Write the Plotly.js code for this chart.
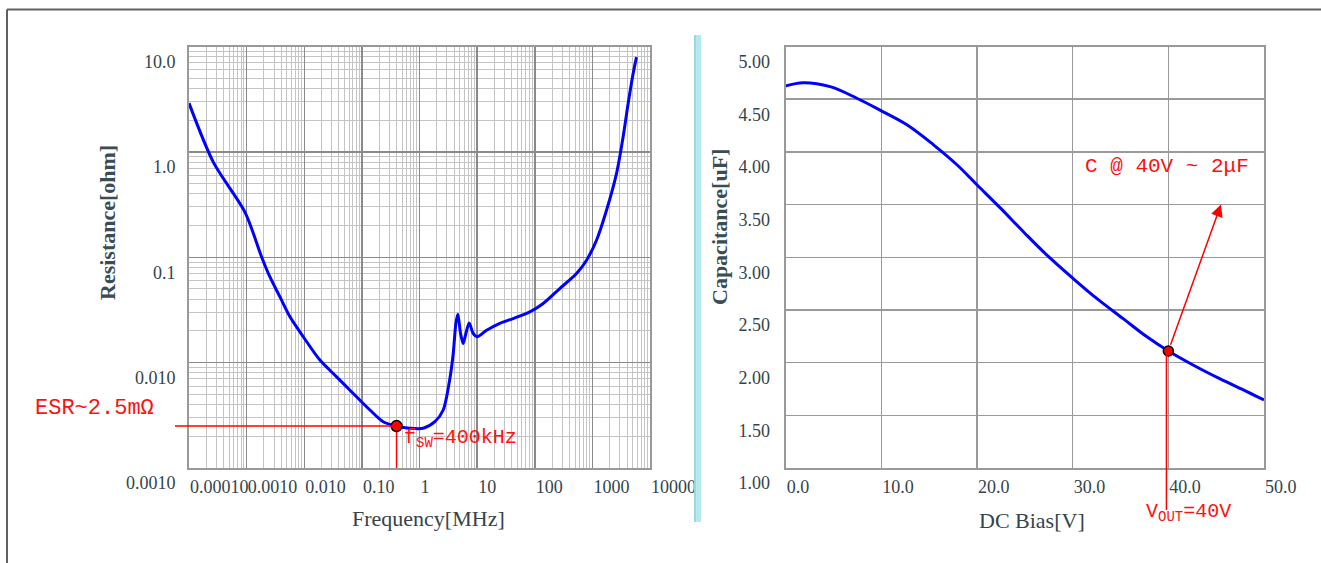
<!DOCTYPE html>
<html><head><meta charset="utf-8">
<script src="https://cdn.plot.ly/plotly-3.0.1.min.js"></script>
<style>html,body{margin:0;padding:0;background:#fff;}#chart{width:1321px;height:563px;}</style>
</head><body><div id="chart"></div>
<script>
// ---- Data: ESR vs frequency (left chart) ----
const freqMHz = [1e-4, 2.64e-4, 9.35e-4, 1.82e-3, 2.54e-3, 3.79e-3, 5.65e-3, 9.62e-3, 0.0187, 0.0365, 0.0708, 0.138, 0.234, 0.4, 0.68, 1.16, 1.85, 2.58, 3.37, 3.85, 4.28, 4.63, 5.16, 5.73, 6.38, 7.28, 8.54, 10.0, 14.6, 24.8, 42.2, 82.2, 140, 272, 531, 792, 1180, 1760, 2620, 3410, 4170, 5090, 5830];
const esrOhm = [2.90, 0.80, 0.268, 0.1007, 0.065, 0.042, 0.0272, 0.0176, 0.01057, 0.00733, 0.0051, 0.00355, 0.00275, 0.0025, 0.00238, 0.00238, 0.00275, 0.00355, 0.00708, 0.0122, 0.0236, 0.0288, 0.0189, 0.0152, 0.0189, 0.0238, 0.0189, 0.0176, 0.0203, 0.0236, 0.0262, 0.0303, 0.0364, 0.0505, 0.070, 0.0937, 0.145, 0.279, 0.621, 1.38, 2.86, 5.51, 7.93];
const freqTickVals = [1e-4, 1e-3, 1e-2, 1e-1, 1, 10, 100, 1000, 10000];
const freqTickText = ['0.00010', '0.0010', '0.010', '0.10', '1', '10', '100', '1000', '10000'];
const esrTickVals = [0.001, 0.01, 0.1, 1, 10];
const esrTickText = ['0.0010', '0.010', '0.1', '1.0', '10.0'];
const fsw = 0.4;          // MHz
const esrAtFsw = 0.0025;  // ohm

// ---- Data: capacitance vs DC bias (right chart) ----
const biasV = [0, 1.83, 4.65, 7.44, 9.95, 12.67, 15.45, 17.9, 19.99, 22.43, 24.87, 27.31, 30.03, 32.54, 35.31, 37.76, 40, 42.63, 45.42, 48.21, 50];
const capUF = [4.626, 4.657, 4.619, 4.509, 4.392, 4.257, 4.067, 3.878, 3.688, 3.468, 3.24, 3.02, 2.80, 2.607, 2.415, 2.245, 2.11, 1.975, 1.845, 1.725, 1.645];
const vout = 40;          // V
const capAtVout = 2.11;   // uF

// ---- Layout helpers ----
const W = 1321, H = 563;
const px = x => x / W, py = y => 1 - y / H;
const xr1 = [-4, 4], yr1 = [-3, 1], xr2 = [0, 50], yr2 = [1, 5];
const dom1x = [px(189), px(650)];
const minorX = [], minorY = [];
for (let d = xr1[0]; d < xr1[1]; d++) for (let k = 2; k <= 9; k++) minorX.push(k * Math.pow(10, d));
for (let d = yr1[0]; d < yr1[1]; d++) for (let k = 2; k <= 9; k++) minorY.push(k * Math.pow(10, d));
// paper x position of fsw on the left (log) axis
const fswPaperX = dom1x[0] + (Math.log10(fsw) - xr1[0]) / (xr1[1] - xr1[0]) * (dom1x[1] - dom1x[0]);

const tickFont = {family: 'Liberation Serif', size: 18, color: '#34444c'};
const xTitleFont = {family: 'Liberation Serif', size: 22, color: '#34444c'};
const yTitleFont = {family: 'Liberation Serif', size: 22, color: '#3a4c54', weight: 'bold'};
const redFont = {family: 'Liberation Mono', size: 20, color: '#ff1010'};

const traces = [
  {x: freqMHz, y: esrOhm, xaxis: 'x', yaxis: 'y', mode: 'lines', line: {color: '#0000ff', width: 3, shape: 'spline', smoothing: 0.8}, hoverinfo: 'none'},
  {x: [fsw, fsw], y: [Math.pow(10, yr1[0]), esrAtFsw], xaxis: 'x', yaxis: 'y', mode: 'lines', line: {color: '#ff0000', width: 1.5}, hoverinfo: 'none'},
  {x: [fsw], y: [esrAtFsw], xaxis: 'x', yaxis: 'y', mode: 'markers', cliponaxis: false, marker: {size: 11, color: '#ff0000', line: {color: '#000', width: 1.5}}, hoverinfo: 'none'},
  {x: biasV, y: capUF, xaxis: 'x2', yaxis: 'y2', mode: 'lines', line: {color: '#0000ff', width: 3, shape: 'spline', smoothing: 1}, hoverinfo: 'none'},
  {x: [vout], y: [capAtVout], xaxis: 'x2', yaxis: 'y2', mode: 'markers', cliponaxis: false, marker: {size: 10, color: '#ff0000', line: {color: '#000', width: 1.5}}, hoverinfo: 'none'}
];

const commonAx = {ticks: '', tickangle: 0, showline: true, mirror: true, linecolor: '#999', linewidth: 2, zeroline: false, fixedrange: true, automargin: false, tickfont: tickFont};

const layout = {
  width: W, height: H, margin: {l: 0, r: 0, t: 0, b: 0},
  paper_bgcolor: '#fff', plot_bgcolor: '#fff', showlegend: false,
  xaxis: Object.assign({}, commonAx, {
    type: 'log', anchor: 'y', domain: dom1x, range: xr1,
    tickmode: 'array', tickvals: freqTickVals, ticktext: freqTickText,
    ticklabelposition: 'outside right', ticklabelstandoff: 1,
    showgrid: true, gridcolor: '#8a8a8a', gridwidth: 1.5,
    minor: {tickmode: 'array', tickvals: minorX, showgrid: true, gridcolor: '#c4c4c4', gridwidth: 1}
  }),
  yaxis: Object.assign({}, commonAx, {
    type: 'log', anchor: 'x', domain: [py(468), py(46.5)], range: yr1,
    tickmode: 'array', tickvals: esrTickVals, ticktext: esrTickText,
    ticklabelshift: 15, ticklabelstandoff: 8,
    showgrid: true, gridcolor: '#8a8a8a', gridwidth: 1.5,
    minor: {tickmode: 'array', tickvals: minorY, showgrid: true, gridcolor: '#c4c4c4', gridwidth: 1}
  }),
  xaxis2: Object.assign({}, commonAx, {
    anchor: 'y2', domain: [px(785.7), px(1264)], range: xr2,
    tickmode: 'linear', tick0: 0, dtick: 10, tickformat: '.1f',
    ticklabelposition: 'outside right', ticklabelstandoff: 1,
    showgrid: true, gridcolor: '#9a9a9a', gridwidth: 1.5
  }),
  yaxis2: Object.assign({}, commonAx, {
    anchor: 'x2', domain: [py(468), py(46.5)], range: yr2,
    tickmode: 'linear', tick0: 1, dtick: 0.5, tickformat: '.2f',
    ticklabelshift: 15, ticklabelstandoff: 10,
    showgrid: true, gridcolor: '#9a9a9a', gridwidth: 1.5
  }),
  shapes: [
    // outer frame
    {type: 'line', xref: 'paper', yref: 'paper', x0: px(7), x1: 1, y0: py(9.5), y1: py(9.5), line: {color: '#606060', width: 2}},
    {type: 'line', xref: 'paper', yref: 'paper', x0: px(7), x1: px(7), y0: py(9.5), y1: 0, line: {color: '#606060', width: 2}},
    // divider between the panels
    {type: 'rect', xref: 'paper', yref: 'paper', x0: px(694), x1: px(701), y0: py(522), y1: py(35), fillcolor: '#b5e9eb', line: {width: 0}, layer: 'above'},
    {type: 'rect', xref: 'paper', yref: 'paper', x0: px(694), x1: px(696), y0: py(522), y1: py(35), fillcolor: '#98d9dd', line: {width: 0}, layer: 'above'},
    // ESR guide line (horizontal, extends left of the plot)
    {type: 'line', xref: 'paper', yref: 'y', x0: px(175), x1: fswPaperX,
     y0: esrAtFsw, y1: esrAtFsw, line: {color: '#ff0000', width: 1.5}, layer: 'above'},
    // Vout guide line (vertical, extends below the plot)
    {type: 'line', xref: 'x2', yref: 'y2 domain', x0: vout - 0.2, x1: vout - 0.2, y0: (capAtVout - yr2[0]) / (yr2[1] - yr2[0]), y1: -42 / 421.5,
     line: {color: '#ff0000', width: 1.5}, layer: 'above'}
  ],
  annotations: [
    {xref: 'paper', yref: 'paper', x: px(107), y: py(223), text: 'Resistance[ohm]', textangle: -90, showarrow: false, font: yTitleFont, xanchor: 'center', yanchor: 'middle'},
    {xref: 'paper', yref: 'paper', x: px(428), y: py(518), text: 'Frequency[MHz]', showarrow: false, font: xTitleFont, xanchor: 'center', yanchor: 'middle'},
    {xref: 'paper', yref: 'paper', x: px(720), y: py(227), text: 'Capacitance[uF]', textangle: -90, showarrow: false, font: yTitleFont, xanchor: 'center', yanchor: 'middle'},
    {xref: 'paper', yref: 'paper', x: px(1032), y: py(520), text: 'DC Bias[V]', showarrow: false, font: xTitleFont, xanchor: 'center', yanchor: 'middle'},
    {xref: 'paper', yref: 'paper', x: px(33), y: py(408), text: 'ESR~2.5m\u03A9', showarrow: false, font: {family: 'Liberation Mono', size: 22, color: '#ff1010'}, xanchor: 'left', yanchor: 'middle'},
    {xref: 'paper', yref: 'paper', x: px(402), y: py(438), text: 'f<sub>SW</sub>=400kHz', showarrow: false, font: redFont, xanchor: 'left', yanchor: 'middle'},
    {xref: 'paper', yref: 'paper', x: px(1083), y: py(166), text: 'C @ 40V ~ 2\u03BCF', showarrow: false, font: {family: 'Liberation Mono', size: 21, color: '#ff1010'}, xanchor: 'left', yanchor: 'middle'},
    {xref: 'paper', yref: 'paper', x: px(1144), y: py(512), text: 'V<sub>OUT</sub>=40V', showarrow: false, font: redFont, xanchor: 'left', yanchor: 'middle'},
    // arrow from the 40 V point up to the label
    {xref: 'x2', yref: 'y2', axref: 'x2', ayref: 'y2', x: 45.5, y: 3.5, ax: vout, ay: capAtVout, text: '', showarrow: true,
     arrowhead: 2, arrowsize: 1.6, arrowwidth: 1.5, arrowcolor: '#ff0000', startstandoff: 5}
  ]
};

Plotly.newPlot('chart', traces, layout, {staticPlot: true, displayModeBar: false});
</script>
</body></html>
